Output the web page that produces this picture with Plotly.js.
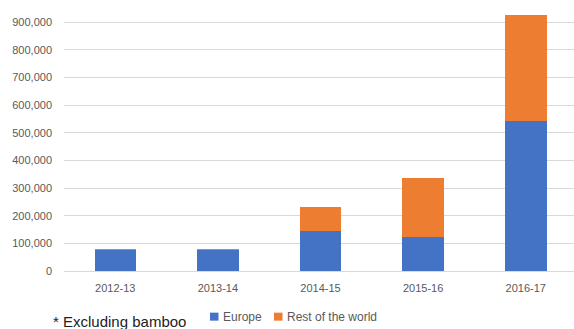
<!DOCTYPE html>
<html>
<head>
<meta charset="utf-8">
<script src="https://cdn.plot.ly/plotly-3.0.1.min.js"></script>
<style>
  html, body { margin: 0; padding: 0; background: #ffffff; }
  #chart { width: 574px; height: 329px; }
</style>
</head>
<body>
<div id="chart"></div>
<script>
// Exports by season, split by destination
var seasons = ['2012-13', '2013-14', '2014-15', '2015-16', '2016-17'];
var europe = [76000, 76000, 143000, 123000, 543000];
var restOfWorld = [3500, 3500, 87000, 214000, 383000];
var seriesNames = ['Europe', 'Rest of the world'];
var seriesColors = ['#4472C4', '#ED7D31'];
var footnote = '* Excluding bamboo';

var W = 574, H = 329;
var margin = { l: 64, r: 0, t: 0, b: 57.7 };
var plotW = W - margin.l - margin.r;
var plotH = H - margin.t - margin.b;

// convert page pixels to paper coordinates for the legend and note
function px(x) { return (x - margin.l) / plotW; }
function py(y) { return (H - margin.b - y) / plotH; }

var traces = [europe, restOfWorld].map(function (vals, i) {
  return {
    type: 'bar',
    x: seasons,
    y: vals,
    name: seriesNames[i],
    marker: { color: seriesColors[i] },
    showlegend: false,
    hoverinfo: 'x+y+name'
  };
});

// hand-built legend: small squares with labels beside them
var legendX = [210, 274];
var shapes = [];
var annotations = [];
seriesNames.forEach(function (name, i) {
  shapes.push({
    type: 'rect', xref: 'paper', yref: 'paper',
    x0: px(legendX[i]), x1: px(legendX[i] + 8.5),
    y0: py(321), y1: py(313),
    fillcolor: seriesColors[i], line: { width: 0 }
  });
  annotations.push({
    xref: 'paper', yref: 'paper',
    x: px(legendX[i] + 10.5), y: py(317),
    xanchor: 'left', yanchor: 'middle',
    text: name, showarrow: false,
    font: { family: 'Liberation Sans, Arial, sans-serif', size: 12, color: '#595959' }
  });
});
annotations.push({
  xref: 'paper', yref: 'paper',
  x: px(50.5), y: py(321.5),
  xanchor: 'left', yanchor: 'middle',
  text: footnote, showarrow: false,
  font: { family: 'Liberation Sans, Arial, sans-serif', size: 15, color: '#222222' }
});

var layout = {
  width: W,
  height: H,
  margin: margin,
  paper_bgcolor: '#ffffff',
  plot_bgcolor: '#ffffff',
  barmode: 'stack',
  bargap: 0.595,
  font: { family: 'Liberation Sans, Arial, sans-serif', size: 11, color: '#595959' },
  xaxis: {
    type: 'category',
    range: [-0.5, 4.47],
    showgrid: false,
    showline: false,
    zeroline: false,
    ticks: '',
    ticklabelstandoff: 9,
    tickfont: { size: 11, color: '#595959' },
    fixedrange: true
  },
  yaxis: {
    range: [0, 980000],
    dtick: 100000,
    tick0: 0,
    tickformat: ',d',
    showgrid: true,
    gridcolor: '#D9D9D9',
    gridwidth: 1,
    zeroline: true,
    zerolinecolor: '#D9D9D9',
    zerolinewidth: 1,
    showline: false,
    ticks: '',
    ticklabelstandoff: 11,
    tickfont: { size: 11, color: '#595959' },
    fixedrange: true
  },
  shapes: shapes,
  annotations: annotations,
  showlegend: false
};

Plotly.newPlot('chart', traces, layout, { displayModeBar: false, staticPlot: true });
</script>
</body>
</html>
